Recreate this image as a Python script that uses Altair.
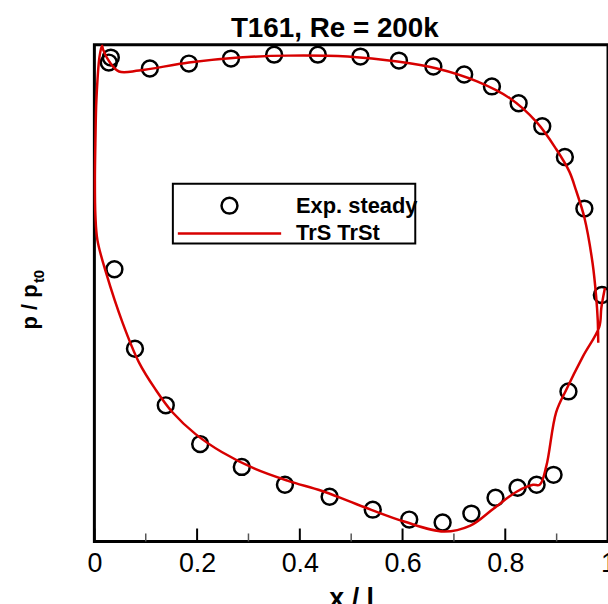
import altair as alt
import pandas as pd

# ---------------- data ----------------
series_names = ["Exp. steady", "TrS TrSt"]

# experimental pressure taps (open circles): pressure side then suction side
exp_x = [0.032, 0.028, 0.108, 0.184, 0.266, 0.350, 0.435, 0.518, 0.593, 0.660,
         0.720, 0.774, 0.826, 0.872, 0.916, 0.954, 0.988,
         0.039, 0.079, 0.139, 0.206, 0.287, 0.371, 0.458, 0.542, 0.613, 0.678,
         0.734, 0.781, 0.824, 0.861, 0.894, 0.923]
exp_y = [0.987, 0.982, 0.976, 0.981, 0.986, 0.990, 0.990, 0.988, 0.984, 0.978,
         0.970, 0.958, 0.941, 0.918, 0.887, 0.835, 0.748,
         0.774, 0.694, 0.637, 0.598, 0.575, 0.557, 0.545, 0.532, 0.522, 0.519,
         0.528, 0.544, 0.554, 0.557, 0.567, 0.651]

# simulation (red line), traced from pressure-side TE round the LE to suction-side TE
cfd_x = [0.981, 0.980, 0.977, 0.970, 0.954, 0.938, 0.925, 0.899, 0.861, 0.809,
         0.745, 0.667, 0.590, 0.493, 0.377, 0.281, 0.184, 0.087, 0.048, 0.029,
         0.017, 0.015, 0.010, 0.004, 0.002, 0.001, 0.002, 0.006, 0.023, 0.055,
         0.087, 0.119, 0.152, 0.197, 0.248, 0.313, 0.377, 0.442, 0.493, 0.538,
         0.603, 0.680, 0.732, 0.777, 0.822, 0.854, 0.867, 0.880, 0.899, 0.919,
         0.951, 0.983, 0.987, 0.994]
cfd_y = [0.700, 0.723, 0.746, 0.780, 0.826, 0.853, 0.872, 0.895, 0.922, 0.946,
         0.963, 0.976, 0.983, 0.988, 0.989, 0.987, 0.982, 0.974, 0.973, 0.983,
         0.995, 0.999, 0.988, 0.945, 0.903, 0.863, 0.828, 0.803, 0.770, 0.720,
         0.680, 0.653, 0.630, 0.608, 0.590, 0.573, 0.561, 0.551, 0.541, 0.532,
         0.520, 0.510, 0.516, 0.533, 0.550, 0.557, 0.557, 0.576, 0.630, 0.653,
         0.686, 0.716, 0.735, 0.755]

major_ticks = [0.0, 0.2, 0.4, 0.6, 0.8, 1.0]
minor_ticks = [0.1, 0.3, 0.5, 0.7, 0.9]

title_text = "T161, Re = 200k"
x_title = "x / l"
y_title_main = "p / p"
y_title_sub = "t0"

# ---------------- tables ----------------
exp_df = pd.DataFrame({"x": exp_x, "y": exp_y, "series": series_names[0]})
cfd_df = pd.DataFrame({"x": cfd_x, "y": cfd_y, "series": series_names[1],
                       "i": list(range(len(cfd_x)))})
major_df = pd.DataFrame({"x": major_ticks})
minor_df = pd.DataFrame({"x": minor_ticks})
one = pd.DataFrame({"k": [0]})

FONT = "Liberation Sans"
RED = "#d70000"

x_axis = alt.Axis(values=major_ticks, format=".1~f", ticks=False, domain=False,
                  grid=False, labelFont=FONT, labelFontSize=27, labelColor="black",
                  labelPadding=9, labelFlush=False, title=x_title, titleFont=FONT,
                  titleFontSize=27, titleFontWeight="bold", titleColor="black",
                  titleBaseline="alphabetic", titleY=66)
x_enc = alt.X("x:Q", scale=alt.Scale(domain=[0, 1], nice=False), axis=x_axis)
y_enc = alt.Y("y:Q", scale=alt.Scale(domain=[0.5, 1.0], nice=False), axis=None)

legend = alt.Legend(orient="none", legendX=81, legendY=149, title=None,
                    padding=2, labelFont=FONT, labelFontSize=22,
                    labelFontWeight="bold", labelColor="black", labelLimit=0,
                    symbolSize=256, symbolStrokeWidth=2.5, symbolOffset=42,
                    labelOffset=56, rowPadding=4)
color_enc = alt.Color("series:N",
                      scale=alt.Scale(domain=series_names, range=["black", RED]),
                      legend=legend)
shape_enc = alt.Shape("series:N",
                      scale=alt.Scale(domain=series_names,
                                      range=["circle", "M-6.5,0H6.5"]),
                      legend=legend)

legend_box = alt.Chart(one).mark_rect(fill="white", stroke="black",
                                      strokeWidth=2).encode(
    x=alt.value(79), x2=alt.value(323), y=alt.value(140), y2=alt.value(200))

points = alt.Chart(exp_df).mark_point(filled=False, size=256, strokeWidth=2.5,
                                      opacity=1).encode(
    x=x_enc, y=y_enc, color=color_enc, shape=shape_enc)

line = alt.Chart(cfd_df).mark_line(strokeWidth=2.5, interpolate="catmull-rom").encode(
    x=x_enc, y=y_enc, order="i:Q", color=color_enc)

major = alt.Chart(major_df).mark_rule(color="black", strokeWidth=2).encode(
    x=x_enc, y=alt.value(500), y2=alt.value(487))
minor = alt.Chart(minor_df).mark_rule(color="#555555", strokeWidth=1.5).encode(
    x=x_enc, y=alt.value(500), y2=alt.value(492))

title_mark = alt.Chart(one).mark_text(text=title_text, font=FONT, fontSize=28,
                                      fontWeight="bold", align="center",
                                      baseline="alphabetic", color="black").encode(
    x=alt.value(242), y=alt.value(-8))

ytitle_main = alt.Chart(one).mark_text(text=y_title_main, angle=270, font=FONT,
                                       fontSize=22, fontWeight="bold",
                                       align="center", baseline="alphabetic",
                                       color="black").encode(
    x=alt.value(-58), y=alt.value(264))
ytitle_sub = alt.Chart(one).mark_text(text=y_title_sub, angle=270, font=FONT,
                                      fontSize=15, fontWeight="bold",
                                      align="left", baseline="alphabetic",
                                      color="black").encode(
    x=alt.value(-51), y=alt.value(240))

chart = alt.layer(legend_box, major, minor, points, line, title_mark,
                  ytitle_main, ytitle_sub).properties(
    width=517, height=500,
    padding={"left": 95, "top": 43, "right": 0, "bottom": 61},
    autosize=alt.AutoSizeParams(type="none"),
    background="white",
).configure_view(stroke="black", strokeWidth=3)

chart.save("out.html", embed_options={"renderer": "svg", "actions": False})
